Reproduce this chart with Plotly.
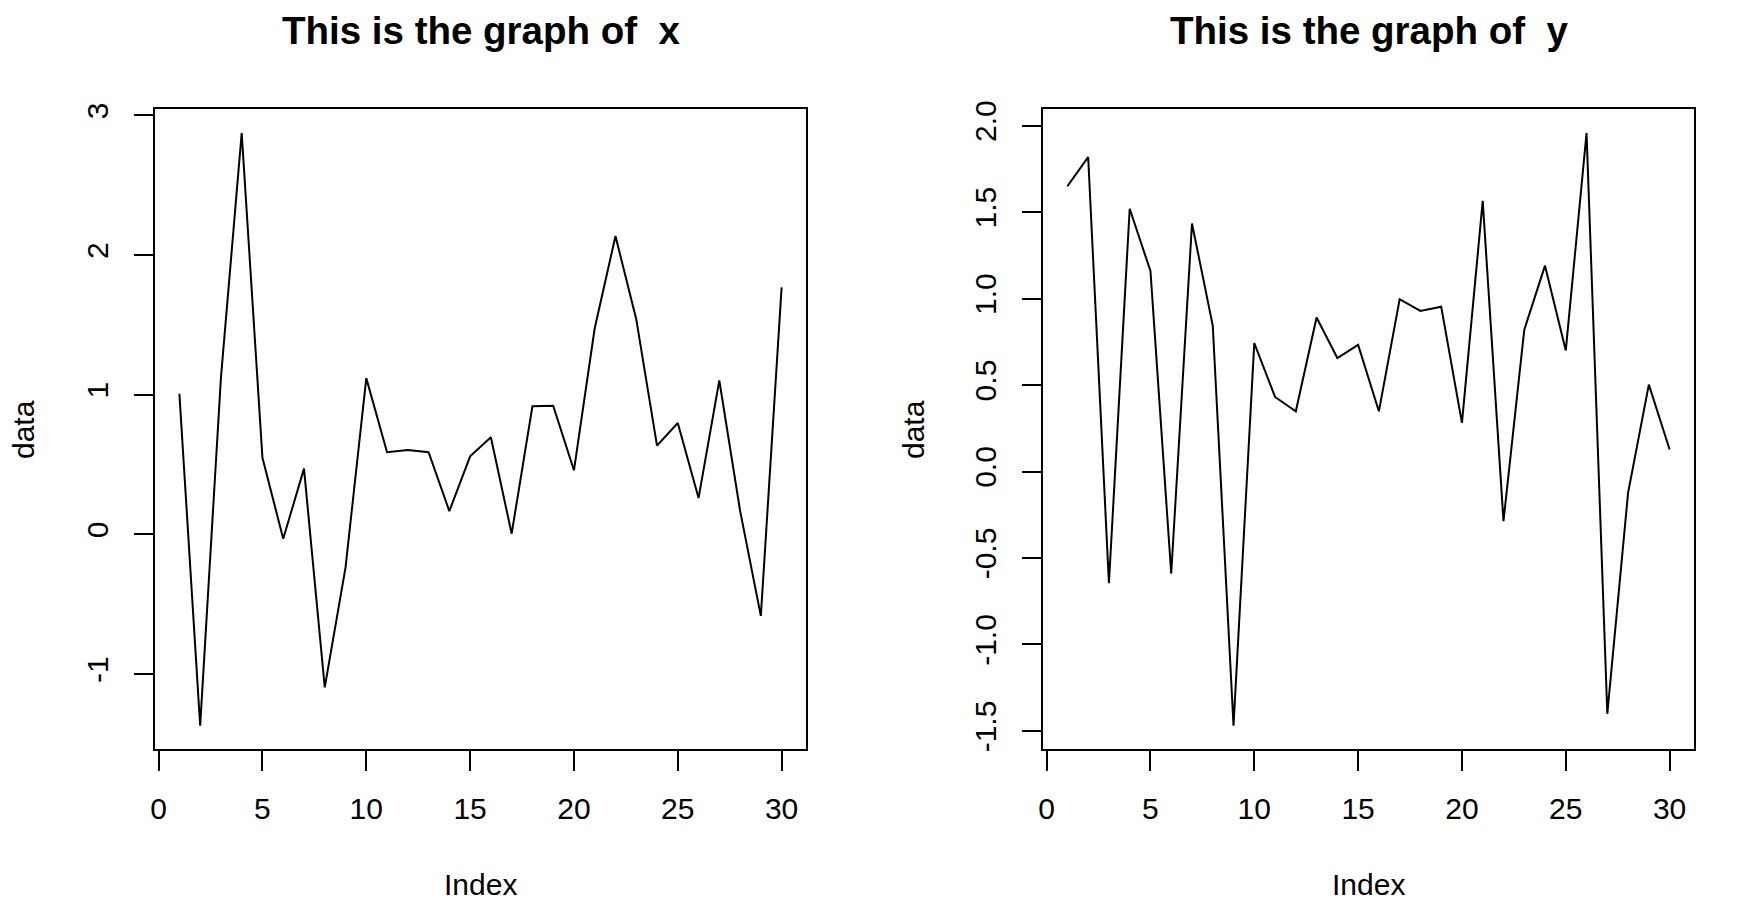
import plotly.graph_objects as go

W, H = 1762, 916
OFF = 8  # page body margin offset of the figure in the browser
index = list(range(1, 31))
x_data = [1.007, -1.369, 1.12, 2.874, 0.548, -0.031, 0.471, -1.095, -0.238, 1.119,
          0.588, 0.605, 0.588, 0.167, 0.559, 0.695, 0.005, 0.917, 0.921, 0.459,
          1.476, 2.136, 1.541, 0.636, 0.798, 0.260, 1.102, 0.17, -0.583, 1.769]
y_data = [1.649, 1.818, -0.646, 1.519, 1.159, -0.590, 1.434, 0.844, -1.469, 0.742,
          0.431, 0.348, 0.890, 0.656, 0.732, 0.348, 0.996, 0.928, 0.953, 0.281,
          1.565, -0.287, 0.819, 1.190, 0.700, 1.957, -1.401, -0.123, 0.502, 0.127]
titles = ["This is the graph of \u00a0x", "This is the graph of \u00a0y"]
x_ticks = [0, 5, 10, 15, 20, 25, 30]
yticks_left = [-1, 0, 1, 2, 3]
yticks_right = [-1.5, -1.0, -0.5, 0.0, 0.5, 1.0, 1.5, 2.0]
yticks_right_text = ["-1.5", "-1.0", "-0.5", "0.0", "0.5", "1.0", "1.5", "2.0"]

FONT = "Liberation Sans, Arial, Helvetica, sans-serif"


def rrange(v):
    lo, hi = min(v), max(v)
    s = hi - lo
    return [lo - 0.04 * s, hi + 0.04 * s]


def px(p):
    return (p - OFF) / W


def py(p):
    return 1 - (p - OFF) / H


fig = go.Figure()
fig.add_trace(go.Scatter(x=index, y=x_data, mode="lines", line=dict(color="black", width=2),
                         xaxis="x", yaxis="y", showlegend=False))
fig.add_trace(go.Scatter(x=index, y=y_data, mode="lines", line=dict(color="black", width=2),
                         xaxis="x2", yaxis="y2", showlegend=False))

xd1 = [px(155.3), px(805.7)]
xd2 = [px(1043.3), px(1693.7)]
yd = [py(749.3), py(109.3)]

common_x = dict(range=rrange(index), tickvals=x_ticks, ticks="outside", ticklen=20, tickwidth=1.5,
                tickcolor="black", showline=True, linecolor="black", linewidth=1.5, mirror=True,
                showgrid=False, zeroline=False, tickfont=dict(family=FONT, size=30, color="black"),
                ticklabelstandoff=12, automargin=False)
common_y = dict(ticks="outside", ticklen=20, tickwidth=1.5, tickcolor="black", showline=True,
                linecolor="black", linewidth=1.5, mirror=True, showgrid=False, zeroline=False,
                tickfont=dict(family=FONT, size=30, color="black"), tickangle=-90,
                ticklabelstandoff=14, domain=yd, automargin=False)

fig.update_layout(
    width=W, height=H, margin=dict(l=0, r=0, t=0, b=0, autoexpand=False),
    paper_bgcolor="white", plot_bgcolor="white",
    xaxis=dict(domain=xd1, anchor="y", **common_x),
    xaxis2=dict(domain=xd2, anchor="y2", **common_x),
    yaxis=dict(anchor="x", range=rrange(x_data), tickvals=yticks_left,
               ticktext=[str(v) for v in yticks_left], **common_y),
    yaxis2=dict(anchor="x2", range=rrange(y_data), tickvals=yticks_right,
                ticktext=yticks_right_text, **common_y),
)

anns = []
for dom, t in zip([xd1, xd2], titles):
    cx = (dom[0] + dom[1]) / 2
    anns.append(dict(text="<b>" + t + "</b>", x=cx, y=py(31), xref="paper", yref="paper",
                     xanchor="center", yanchor="middle", showarrow=False,
                     font=dict(family=FONT, size=38.5, color="black")))
    anns.append(dict(text="Index", x=cx, y=py(884), xref="paper", yref="paper",
                     xanchor="center", yanchor="middle", showarrow=False,
                     font=dict(family=FONT, size=30, color="black")))
for lx in [23, 913]:
    anns.append(dict(text="data", x=px(lx), y=py(430), xref="paper", yref="paper",
                     xanchor="center", yanchor="middle", showarrow=False, textangle=-90,
                     font=dict(family=FONT, size=30, color="black")))
fig.update_layout(annotations=anns)

fig.write_html("out.html")
